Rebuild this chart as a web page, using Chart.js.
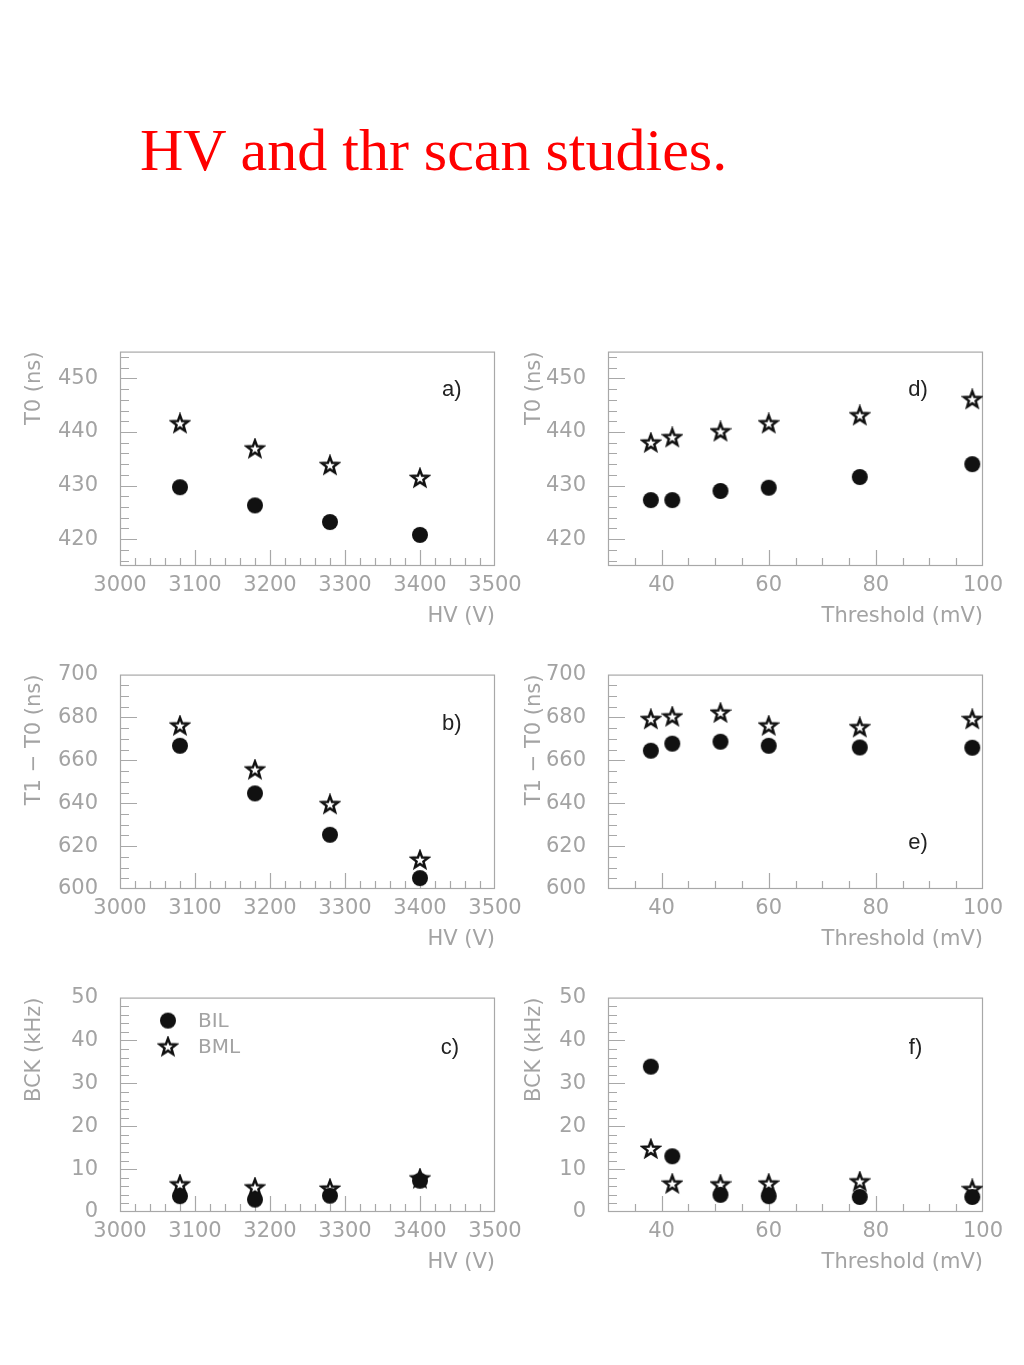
<!DOCTYPE html>
<html>
<head>
<meta charset="utf-8">
<script src="https://cdn.jsdelivr.net/npm/chart.js@4.4.0/dist/chart.umd.min.js"></script>
<style>
  body { margin: 0; background: #fff; width: 1024px; height: 1365px; position: relative; overflow: hidden; }
  #titulo { position: absolute; left: 140px; top: 116px; font: 60px "Liberation Serif", serif; color: #ff0000; white-space: nowrap; }
  .painel { position: absolute; }
</style>
</head>
<body>
<div id="titulo">HV and thr scan studies.</div>
<canvas id="cA" class="painel" width="540" height="329" style="left:0;top:317px"></canvas>
<canvas id="cB" class="painel" width="540" height="329" style="left:0;top:640px"></canvas>
<canvas id="cC" class="painel" width="540" height="329" style="left:0;top:963px"></canvas>
<canvas id="cD" class="painel" width="514" height="329" style="left:510px;top:317px"></canvas>
<canvas id="cE" class="painel" width="514" height="329" style="left:510px;top:640px"></canvas>
<canvas id="cF" class="painel" width="514" height="329" style="left:510px;top:963px"></canvas>
<script>
// ==================================================
// DADOS
// ==================================================
const hvVolts = [3080, 3180, 3280, 3400];
const thrMv = [38, 42, 51, 60, 77, 98];

const t0HvBIL = [429.7, 426.3, 423.2, 420.8];
const t0HvBML = [441.6, 436.9, 433.8, 431.4];
const dtHvBIL = [666.8, 644.6, 625.3, 605.1];
const dtHvBML = [676.2, 655.7, 639.5, 613.6];
const bckHvBIL = [3.7, 2.9, 3.8, 7.3];
const bckHvBML = [6.4, 5.7, 5.4, 7.8];

const t0ThrBIL = [427.3, 427.3, 429.0, 429.6, 431.6, 434.0];
const t0ThrBML = [438.0, 439.0, 440.1, 441.6, 443.1, 446.1];
const dtThrBIL = [664.5, 667.8, 668.7, 666.8, 666.0, 665.9];
const dtThrBML = [679.2, 680.4, 682.2, 676.2, 675.4, 679.2];
const bckThrBIL = [33.9, 13.0, 4.0, 3.7, 3.5, 3.5];
const bckThrBML = [14.7, 6.6, 6.4, 6.6, 7.1, 5.3];

// rótulos dos eixos
const hvTicks = [3000, 3100, 3200, 3300, 3400, 3500];
const thrTicks = [40, 60, 80, 100];
const t0Ticks = [420, 430, 440, 450];
const dtTicks = [600, 620, 640, 660, 680, 700];
const bckTicks = [0, 10, 20, 30, 40, 50];

const FONTE = '"DejaVu Sans", sans-serif';
const CINZA = '#a3a3a3';

// ==================================================
// MARCADORES (círculo cheio / estrela vazada)
// ==================================================
function criarCirculo() {
    const c = document.createElement('canvas');
    c.width = 18; c.height = 18;
    const g = c.getContext('2d');
    g.beginPath();
    g.arc(9, 9, 8, 0, Math.PI * 2);
    g.fillStyle = '#111';
    g.fill();
    return c;
}

function criarEstrela() {
    const c = document.createElement('canvas');
    c.width = 22; c.height = 22;
    const g = c.getContext('2d');
    g.beginPath();
    for (let i = 0; i < 10; i++) {
        const r = i % 2 ? 3.6 : 8.6;
        const a = -Math.PI / 2 + i * Math.PI / 5;
        g.lineTo(11 + r * Math.cos(a), 11.5 + r * Math.sin(a));
    }
    g.closePath();
    g.fillStyle = '#fff';
    g.fill();
    g.lineWidth = 2.5;
    g.strokeStyle = '#111';
    g.stroke();
    return c;
}

const imgCirculo = criarCirculo();
const imgEstrela = criarEstrela();

// ==================================================
// PLUGINS: moldura com marcas internas, rótulo do painel e legenda
// ==================================================
const molduraPlugin = {
    id: 'moldura',
    beforeDatasetsDraw(chart, args, opts) {
        const { ctx, chartArea: a, scales: { x, y } } = chart;
        ctx.save();
        ctx.strokeStyle = '#a8a8a8';
        ctx.lineWidth = 1.2;
        ctx.strokeRect(a.left + 0.5, a.top + 0.5, a.width - 1, a.height - 1);
        ctx.beginPath();
        const ehMaior = (v, m) => Math.abs(v / m - Math.round(v / m)) < 1e-6;
        for (let v = Math.ceil(x.min / opts.xMenor) * opts.xMenor; v < x.max - 1e-6; v += opts.xMenor) {
            if (v <= x.min + 1e-6) continue;
            const px = Math.round(x.getPixelForValue(v)) + 0.5;
            const len = ehMaior(v, opts.xMaior) ? 16 : 8;
            ctx.moveTo(px, a.bottom);
            ctx.lineTo(px, a.bottom - len);
        }
        for (let v = Math.ceil(y.min / opts.yMenor) * opts.yMenor; v < y.max - 1e-6; v += opts.yMenor) {
            if (v <= y.min + 1e-6) continue;
            const py = Math.round(y.getPixelForValue(v)) + 0.5;
            const len = ehMaior(v, opts.yMaior) ? 17 : 9;
            ctx.moveTo(a.left, py);
            ctx.lineTo(a.left + len, py);
        }
        ctx.stroke();

        // rótulo a), b), ...
        ctx.fillStyle = '#222';
        ctx.font = '22px "Liberation Sans", sans-serif';
        ctx.textAlign = 'center';
        ctx.textBaseline = 'middle';
        ctx.fillText(opts.rotulo, a.left + a.width * opts.rx, a.top + a.height * opts.ry);

        // legenda (só no painel c)
        if (opts.legenda) {
            ctx.font = '20px ' + FONTE;
            ctx.textAlign = 'left';
            ctx.fillStyle = CINZA;
            chart.data.datasets.forEach((ds, i) => {
                const cy = a.top + 23 + i * 26;
                const img = ds.pointStyle;
                ctx.drawImage(img, a.left + 48 - img.width / 2, cy - img.height / 2);
                ctx.fillText(ds.label, a.left + 78, cy + 1);
            });
        }
        ctx.restore();
    }
};

/**
 * Monta um painel de dispersão
 */
function criarPainel(id, cfg) {
    const esquerda = cfg.coluna === 0;
    const fonteEixo = { family: FONTE, size: 21 };
    return new Chart(document.getElementById(id), {
        type: 'scatter',
        data: {
            datasets: [
                {
                    label: 'BIL',
                    data: cfg.xs.map((v, i) => ({ x: v, y: cfg.bil[i] })),
                    pointStyle: imgCirculo,
                    backgroundColor: '#111'
                },
                {
                    label: 'BML',
                    data: cfg.xs.map((v, i) => ({ x: v, y: cfg.bml[i] })),
                    pointStyle: imgEstrela,
                    backgroundColor: '#fff'
                }
            ]
        },
        options: {
            responsive: false,
            animation: false,
            devicePixelRatio: 1,
            layout: { padding: { top: 34, bottom: 0, left: 0, right: esquerda ? 45 : 41 } },
            plugins: {
                tooltip: { enabled: false },
                legend: { display: false },
                moldura: {
                    rotulo: cfg.rotulo, rx: cfg.rx, ry: cfg.ry, legenda: !!cfg.legenda,
                    xMenor: cfg.xMenor, xMaior: cfg.xMaior, yMenor: cfg.yMenor, yMaior: cfg.yMaior
                }
            },
            scales: {
                x: {
                    type: 'linear',
                    min: cfg.xMin,
                    max: cfg.xMax,
                    afterBuildTicks: s => { s.ticks = cfg.xTicks.map(v => ({ value: v })); },
                    afterFit: s => { s.height = 80; },
                    grid: { display: false, drawTicks: false },
                    border: { display: false },
                    ticks: { padding: 7, color: CINZA, font: fonteEixo, maxRotation: 0, autoSkip: false, callback: v => String(v) },
                    title: { display: true, text: cfg.xTitulo, align: 'end', color: CINZA, font: fonteEixo, padding: { top: 0, bottom: 17 } }
                },
                y: {
                    type: 'linear',
                    min: cfg.yMin,
                    max: cfg.yMax,
                    afterBuildTicks: s => { s.ticks = cfg.yTicks.map(v => ({ value: v })); },
                    afterFit: s => { s.width = esquerda ? 120 : 98; },
                    grid: { display: false, drawTicks: false },
                    border: { display: false },
                    ticks: { padding: 22, color: CINZA, font: fonteEixo, autoSkip: false, callback: v => String(v) },
                    title: { display: true, text: cfg.yTitulo, align: 'end', color: CINZA, font: fonteEixo, padding: { top: esquerda ? 22 : 12, bottom: 0 } }
                }
            }
        },
        plugins: [molduraPlugin]
    });
}

const hvBase = { coluna: 0, xs: hvVolts, xMin: 3000, xMax: 3500, xTicks: hvTicks, xMenor: 20, xMaior: 100, xTitulo: 'HV (V)' };
const thrBase = { coluna: 1, xs: thrMv, xMin: 30, xMax: 100, xTicks: thrTicks, xMenor: 5, xMaior: 20, xTitulo: 'Threshold (mV)' };
const t0Base = { yMin: 415, yMax: 455, yTicks: t0Ticks, yMenor: 2, yMaior: 10, yTitulo: 'T0 (ns)' };
const dtBase = { yMin: 600, yMax: 700, yTicks: dtTicks, yMenor: 5, yMaior: 20, yTitulo: 'T1 \u2212 T0 (ns)' };
const bckBase = { yMin: 0, yMax: 50, yTicks: bckTicks, yMenor: 2, yMaior: 10, yTitulo: 'BCK (kHz)' };

criarPainel('cA', { ...hvBase, ...t0Base, bil: t0HvBIL, bml: t0HvBML, rotulo: 'a)', rx: 0.885, ry: 0.18 });
criarPainel('cB', { ...hvBase, ...dtBase, bil: dtHvBIL, bml: dtHvBML, rotulo: 'b)', rx: 0.885, ry: 0.23 });
criarPainel('cC', { ...hvBase, ...bckBase, bil: bckHvBIL, bml: bckHvBML, rotulo: 'c)', rx: 0.88, ry: 0.233, legenda: true });
criarPainel('cD', { ...thrBase, ...t0Base, bil: t0ThrBIL, bml: t0ThrBML, rotulo: 'd)', rx: 0.827, ry: 0.18 });
criarPainel('cE', { ...thrBase, ...dtBase, bil: dtThrBIL, bml: dtThrBML, rotulo: 'e)', rx: 0.827, ry: 0.786 });
criarPainel('cF', { ...thrBase, ...bckBase, bil: bckThrBIL, bml: bckThrBML, rotulo: 'f)', rx: 0.82, ry: 0.233 });
</script>
</body>
</html>
